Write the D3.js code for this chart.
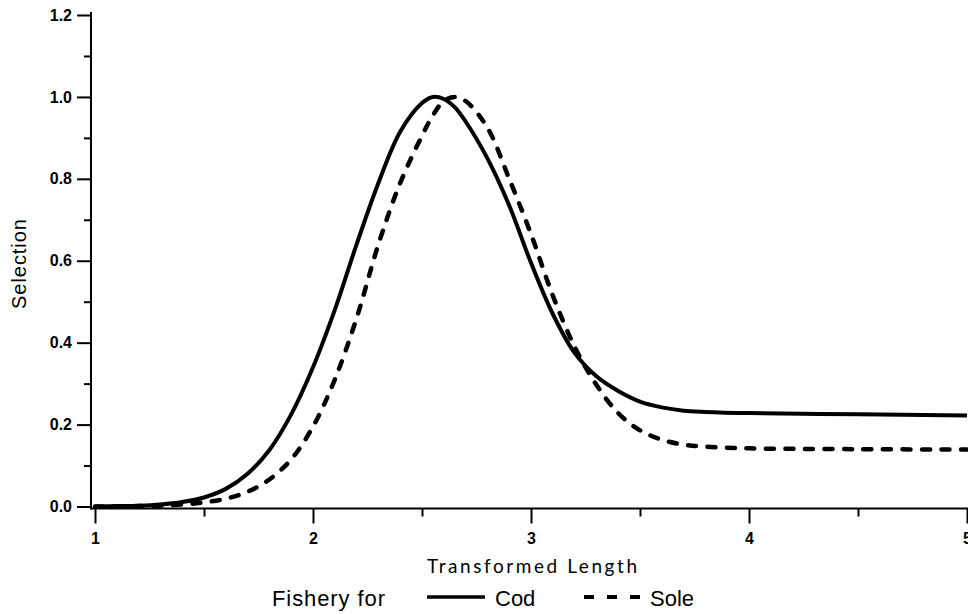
<!DOCTYPE html>
<html>
<head>
<meta charset="utf-8">
<script src="https://cdn.jsdelivr.net/npm/d3@7"></script>
<style>
  html, body { margin: 0; padding: 0; background: #fff; }
  svg { display: block; }
</style>
</head>
<body>
<svg id="chart" width="968" height="614"></svg>
<script>
// ---- data ----
const lengths = [1.0, 1.1, 1.2, 1.3, 1.4, 1.5, 1.6, 1.7, 1.8, 1.9, 2.0, 2.1, 2.2, 2.3, 2.4, 2.5, 2.55, 2.6, 2.65, 2.7, 2.8, 2.9, 3.0, 3.1, 3.2, 3.3, 3.4, 3.5, 3.6, 3.7, 3.8, 4.0, 4.5, 5.0];
const codSelection = [0.000, 0.001, 0.002, 0.005, 0.011, 0.022, 0.043, 0.080, 0.138, 0.225, 0.340, 0.48, 0.64, 0.79, 0.915, 0.985, 1.0, 0.995, 0.975, 0.94, 0.85, 0.735, 0.595, 0.47, 0.375, 0.318, 0.282, 0.256, 0.242, 0.234, 0.231, 0.228, 0.225, 0.222];
const soleSelection = [0.000, 0.000, 0.001, 0.002, 0.005, 0.010, 0.019, 0.036, 0.066, 0.115, 0.195, 0.31, 0.46, 0.64, 0.79, 0.905, 0.955, 0.99, 1.0, 0.99, 0.925, 0.80, 0.665, 0.515, 0.39, 0.297, 0.228, 0.186, 0.163, 0.151, 0.146, 0.142, 0.140, 0.139];
const xMajorTicks = [1, 2, 3, 4, 5];
const xMinorTicks = [1.5, 2.5, 3.5, 4.5];
const yMajorTicks = [0, 0.2, 0.4, 0.6, 0.8, 1.0, 1.2];
const yMinorTicks = [0.1, 0.3, 0.5, 0.7, 0.9, 1.1];
const xTitle = "Transformed Length";
const yTitle = "Selection";
const legendTitle = "Fishery for";
const seriesNames = ["Cod", "Sole"];

// ---- layout ----
const svg = d3.select("#chart");
const x = d3.scaleLinear().domain([1, 5]).range([95, 967]);
const y = d3.scaleLinear().domain([0, 1.2]).range([506.5, 15]);
const axisX = 91;      // position of vertical axis line
const axisY = 508.5;   // position of horizontal axis line
const tickFont = "'Liberation Sans', Arial, sans-serif";

// y axis
const gy = svg.append("g").attr("transform", `translate(${axisX},0)`);
gy.call(d3.axisLeft(y).tickValues(yMajorTicks).tickSize(14).tickPadding(5).tickFormat(d3.format(".1f")));
gy.append("g").call(d3.axisLeft(y).tickValues(yMinorTicks).tickSize(7).tickFormat(""))
  .select(".domain").remove();
gy.selectAll(".domain").remove();
gy.append("line").attr("x1", 0).attr("x2", 0).attr("y1", 12).attr("y2", axisY + 1)
  .attr("stroke", "#000").attr("stroke-width", 2);
gy.selectAll(".tick line").attr("stroke", "#000").attr("stroke-width", 2);
gy.selectAll(".tick text").style("font-family", tickFont).style("font-weight", "bold")
  .style("font-size", "16px").attr("fill", "#000");

// x axis
const gx = svg.append("g").attr("transform", `translate(0,${axisY})`);
gx.call(d3.axisBottom(x).tickValues(xMajorTicks).tickSize(15).tickPadding(9).tickFormat(d3.format("d")));
gx.append("g").call(d3.axisBottom(x).tickValues(xMinorTicks).tickSize(8).tickFormat(""))
  .select(".domain").remove();
gx.selectAll(".domain").remove();
gx.append("line").attr("x1", axisX - 1).attr("x2", 968).attr("y1", 0).attr("y2", 0)
  .attr("stroke", "#000").attr("stroke-width", 2);
gx.selectAll(".tick line").attr("stroke", "#000").attr("stroke-width", 2);
gx.selectAll(".tick text").style("font-family", tickFont).style("font-weight", "bold")
  .style("font-size", "16px").attr("fill", "#000");

// axis titles
svg.append("text")
  .attr("x", 532).attr("y", 573)
  .attr("text-anchor", "middle")
  .attr("font-family", "Lato, 'DejaVu Sans', sans-serif")
  .attr("font-size", 19)
  .attr("textLength", 210).attr("lengthAdjust", "spacing")
  .attr("fill", "#000")
  .text(xTitle);

svg.append("text")
  .attr("transform", "translate(26,264) rotate(-90)")
  .attr("text-anchor", "middle")
  .attr("font-family", "'Liberation Sans', Arial, sans-serif")
  .attr("font-size", 20)
  .attr("textLength", 90).attr("lengthAdjust", "spacing")
  .attr("fill", "#000")
  .text(yTitle);

// curves
const line = d3.line().x((d, i) => x(lengths[i])).y(d => y(d)).curve(d3.curveCatmullRom.alpha(0.5));
const plot = svg.append("g");
plot.append("path").datum(codSelection).attr("d", line)
  .attr("fill", "none").attr("stroke", "#000").attr("stroke-width", 4)
  .attr("stroke-linejoin", "round");
plot.append("path").datum(soleSelection).attr("d", line)
  .attr("fill", "none").attr("stroke", "#000").attr("stroke-width", 4.5)
  .attr("stroke-dasharray", "8,11.5").attr("stroke-linecap", "round");

// legend
const legFont = "'Liberation Sans', Arial, sans-serif";
svg.append("text").attr("x", 272).attr("y", 606)
  .attr("font-family", legFont).attr("font-size", 22)
  .attr("textLength", 113).attr("lengthAdjust", "spacing")
  .attr("fill", "#000").text(legendTitle);
svg.append("line").attr("x1", 427).attr("x2", 485).attr("y1", 597).attr("y2", 597)
  .attr("stroke", "#000").attr("stroke-width", 3.5);
svg.append("text").attr("x", 495).attr("y", 606)
  .attr("font-family", legFont).attr("font-size", 22)
  .attr("fill", "#000").text(seriesNames[0]);
svg.append("line").attr("x1", 584).attr("x2", 640).attr("y1", 597).attr("y2", 597)
  .attr("stroke", "#000").attr("stroke-width", 4)
  .attr("stroke-dasharray", "10,13");
svg.append("text").attr("x", 650).attr("y", 606)
  .attr("font-family", legFont).attr("font-size", 22)
  .attr("fill", "#000").text(seriesNames[1]);
</script>
</body>
</html>
